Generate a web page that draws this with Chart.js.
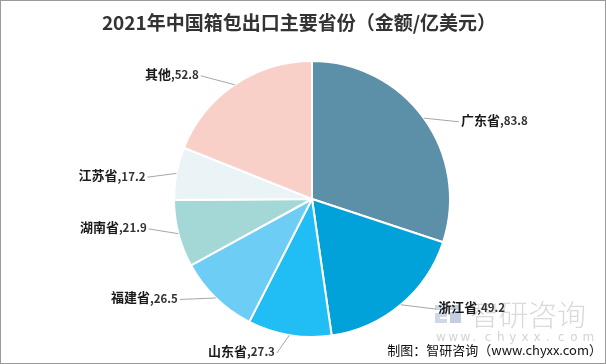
<!DOCTYPE html>
<html>
<head>
<meta charset="utf-8">
<script src="https://cdn.jsdelivr.net/npm/chart.js@4"></script>
<style>
  html, body { margin: 0; padding: 0; background: #fff; }
  #wrap { width: 606px; height: 364px; position: relative; }
</style>
</head>
<body>
<div id="wrap"><canvas id="chart-js" width="606" height="364"></canvas></div>
<script>
const provinces = ['广东省', '浙江省', '山东省', '福建省', '湖南省', '江苏省', '其他'];
const amounts = [83.8, 49.2, 27.3, 26.5, 21.9, 17.2, 52.8];
const sliceColors = ['#5c8fa8', '#00a2d9', '#20bef4', '#6dcdf4', '#a3d8d6', '#eaf4f6', '#f8d0c7'];
const titleText = '2021年中国箱包出口主要省份（金额/亿美元）';
const sourceText = '制图：智研咨询（www.chyxx.com）';

const CJK = '"Noto Sans CJK SC", "Noto Sans", sans-serif';

// labels with leader lines, title, source, watermark
const decorPlugin = {
    id: 'decor',
    beforeDraw(chart) {
        const ctx = chart.ctx;
        ctx.save();
        // watermark logo + text
        ctx.fillStyle = '#cfd8e6';
        ctx.fillRect(435, 305, 12, 5);
        ctx.fillRect(442, 305, 5, 10);
        ctx.fillRect(435, 313, 12, 4);
        ctx.fillRect(435, 313, 5, 10);
        ctx.fillRect(435, 319, 12, 4);
        ctx.fillStyle = '#c3cfe0';
        ctx.fillRect(450, 305, 11, 5);
        ctx.fillRect(450, 312, 11, 11);
        ctx.fillStyle = '#dadada';
        ctx.font = '300 29px ' + CJK;
        ctx.textBaseline = 'middle';
        ctx.textAlign = 'left';
        ctx.fillText('智研咨询', 470, 315);
        ctx.font = '12px "DejaVu Sans", sans-serif';
        ctx.fillStyle = '#d4d4d4';
        const wm = 'www.chyxx.com'.split('');
        wm.forEach((c, i) => ctx.fillText(c, 436 + i * 12.2, 338));
        ctx.restore();
    },
    afterDatasetsDraw(chart) {
        const ctx = chart.ctx;
        const meta = chart.getDatasetMeta(0);
        ctx.save();
        meta.data.forEach((arc, i) => {
            const p = arc.getProps(['x', 'y', 'startAngle', 'endAngle', 'outerRadius'], true);
            const mid = (p.startAngle + p.endAngle) / 2;
            const t = mid + Math.PI / 2;
            const ta = t + 0.15 * Math.sin(2 * t);
            const sx = p.x + p.outerRadius * Math.cos(mid);
            const sy = p.y + p.outerRadius * Math.sin(mid);
            const R = p.outerRadius + 28;
            const ax = p.x + R * Math.sin(ta);
            const ay = Math.min(p.y - R * Math.cos(ta), chart.height - 11);

            ctx.strokeStyle = '#a6a6a6';
            ctx.lineWidth = 1;
            ctx.beginPath();
            ctx.moveTo(sx, sy);
            ctx.lineTo(ax, ay);
            ctx.stroke();

            const name = provinces[i];
            const val = ',' + amounts[i].toFixed(1);
            const nameFont = 'bold 13px ' + CJK;
            const valFont = 'bold 11.5px ' + CJK;
            ctx.textBaseline = 'middle';
            ctx.fillStyle = '#1a1a1a';
            ctx.font = nameFont;
            const nw = ctx.measureText(name).width;
            ctx.font = valFont;
            const vw = ctx.measureText(val).width;
            let x0 = Math.sin(ta) >= 0 ? ax + 2 : ax - 2 - nw - vw;
            const ty = ay - 2;
            ctx.textAlign = 'left';
            ctx.font = nameFont;
            ctx.fillText(name, x0, ty);
            ctx.font = valFont;
            ctx.fillStyle = '#333';
            ctx.fillText(val, x0 + nw, ty + 1);
        });

        // title
        ctx.fillStyle = '#333';
        ctx.font = 'bold 19px ' + CJK;
        ctx.textAlign = 'center';
        ctx.textBaseline = 'middle';
        ctx.fillText(titleText, 299, 23);

        // source
        ctx.fillStyle = '#111';
        ctx.font = '13px ' + CJK;
        ctx.textAlign = 'right';
        ctx.fillText(sourceText, 602, 350);

        // frame
        ctx.strokeStyle = '#9a9a9a';
        ctx.lineWidth = 1;
        ctx.strokeRect(0.5, 0.5, chart.width - 1, chart.height - 1);
        ctx.restore();
    }
};

const ctx = document.getElementById('chart-js').getContext('2d');

const myChart = new Chart(ctx, {
    type: 'pie',
    data: {
        labels: provinces,
        datasets: [{
            data: amounts,
            backgroundColor: sliceColors,
            borderColor: '#ffffff',
            borderWidth: 2
        }]
    },
    options: {
        responsive: false,
        animation: false,
        events: [],
        layout: {
            padding: { top: 60, bottom: 26, left: 173, right: 155 }
        },
        plugins: {
            legend: { display: false },
            tooltip: { enabled: false },
            title: { display: false }
        }
    },
    plugins: [decorPlugin]
});
</script>
</body>
</html>
